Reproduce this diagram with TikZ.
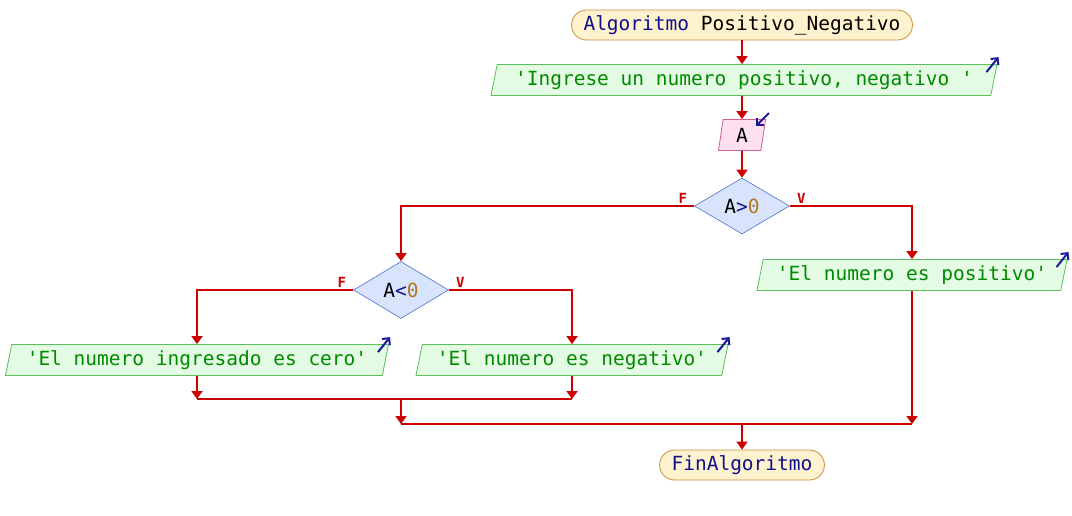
\documentclass[tikz,border=0pt]{standalone}
\usepackage{fontspec}
\setmonofont{DejaVu Sans Mono}
\usepackage{tikz}
\usetikzlibrary{shapes.geometric, arrows.meta, positioning}
\usetikzlibrary{calc}
\usepackage{xcolor}
\definecolor{rojo}{HTML}{CC0000}
\definecolor{azul}{HTML}{1A1A9A}
\definecolor{navy}{HTML}{10108A}
\definecolor{naranja}{HTML}{B07A20}
\definecolor{fondoterm}{HTML}{FFF2CE}
\definecolor{bordeterm}{HTML}{C8903C}
\definecolor{fondosal}{HTML}{E4FBE4}
\definecolor{bordesal}{HTML}{5CBF5C}
\definecolor{textosal}{HTML}{008A00}
\definecolor{fondoent}{HTML}{FFE0EE}
\definecolor{bordeent}{HTML}{D0608E}
\definecolor{fondodec}{HTML}{D8E4FC}
\definecolor{bordedec}{HTML}{4F6FCF}
\newcommand{\letrapsc}{\ttfamily\fontsize{19.5}{22}\selectfont}
\tikzset{
	terminal/.style={draw=bordeterm, fill=fondoterm, rounded corners=15pt, minimum height=30pt, inner xsep=12pt, inner ysep=0pt, font=\letrapsc, line width=0.8pt},
	salida/.style={trapezium, trapezium left angle=72, trapezium right angle=108, trapezium stretches body, draw=bordesal, fill=fondosal, text=textosal, minimum height=31pt, inner ysep=0pt, font=\letrapsc, line width=0.8pt},
	entrada/.style={salida, draw=bordeent, fill=fondoent, text=black},
	decision/.style={diamond, draw=bordedec, fill=fondodec, minimum width=95pt, minimum height=57pt, inner sep=0pt, font=\letrapsc, line width=0.6pt},
	flecha/.style={draw=rojo, line width=1.8pt, -{Triangle[width=11pt,length=8pt]}},
	linea/.style={draw=rojo, line width=1.8pt},
	etiqueta/.style={text=rojo, font=\ttfamily\bfseries\fontsize{14}{14}\selectfont, inner sep=0pt},
	icono/.style={draw=azul, line width=2pt, -{Straight Barb[length=5pt,width=10pt]}}
}
\begin{document}
\begin{tikzpicture}[x=1pt,y=-1pt]
				\useasboundingbox (0,0) rectangle (1072,515);
				\node[terminal] (inicio) at (742,25) {{\color{navy}Algoritmo} Positivo\_Negativo};
				\node[salida, minimum width=506pt] (msg) at (744,80) {'Ingrese un numero positivo, negativo '};
				\node[entrada, minimum width=47pt] (leer) at (742,135) {A};
				\node[decision, minimum height=56pt] (cond1) at (742,206) {A{\color{navy}>}{\color{naranja}0}};
				\node[decision] (cond2) at (401,290) {A{\color{navy}<}{\color{naranja}0}};
				\node[salida, minimum width=383pt] (cero) at (197,360) {'El numero ingresado es cero'};
				\node[salida, minimum width=312pt] (neg) at (572,360) {'El numero es negativo'};
				\node[salida, minimum width=310pt] (pos) at (912,275) {'El numero es positivo'};
				\node[terminal] (fin) at (742,465) {{\color{navy}FinAlgoritmo}};
				\node[etiqueta, above left=2pt and 7pt of cond1.west] (f1) {F};
				\node[etiqueta, above right=2pt and 7pt of cond1.east] (v1) {V};
				\node[etiqueta, above left=2pt and 7pt of cond2.west] (f2) {F};
				\node[etiqueta, above right=2pt and 7pt of cond2.east] (v2) {V};
				\coordinate (union1) at (401,399);
				\coordinate (union2) at (742,424);
				\draw[flecha] (inicio) -- (inicio |- msg.north);
				\draw[flecha] (leer |- msg.south) -- (leer.north);
				\draw[flecha] (leer.south) -- (cond1.north);
				\draw[flecha] (cond1.west) -| (cond2.north);
				\draw[flecha] (cond1.east) -| (pos.north);
				\draw[flecha] (cond2.west) -| (cero.north);
				\draw[flecha] (cond2.east) -| (neg.north);
				\draw[flecha] (cero.south) -- (cero.south |- union1);
				\draw[flecha] (neg.south) -- (neg.south |- union1);
				\draw[linea] (cero.south |- union1) -- (neg.south |- union1);
				\draw[flecha] (union1) -- (union1 |- union2);
				\draw[flecha] (pos.south) -- (pos.south |- union2);
				\draw[linea] (union1 |- union2) -- (pos.south |- union2);
				\draw[flecha] (union2) -- (fin.north);
				\draw[icono] ([xshift=-11pt,yshift=-8pt]msg.top right corner) -- ([xshift=1pt,yshift=7pt]msg.top right corner);
				\draw[icono] ([xshift=3pt,yshift=6pt]leer.top right corner) -- ([xshift=-10pt,yshift=-7pt]leer.top right corner);
				\draw[icono] ([xshift=-11pt,yshift=-8pt]cero.top right corner) -- ([xshift=1pt,yshift=7pt]cero.top right corner);
				\draw[icono] ([xshift=-11pt,yshift=-8pt]neg.top right corner) -- ([xshift=1pt,yshift=7pt]neg.top right corner);
				\draw[icono] ([xshift=-11pt,yshift=-8pt]pos.top right corner) -- ([xshift=1pt,yshift=7pt]pos.top right corner);
			\end{tikzpicture}
\end{document}
